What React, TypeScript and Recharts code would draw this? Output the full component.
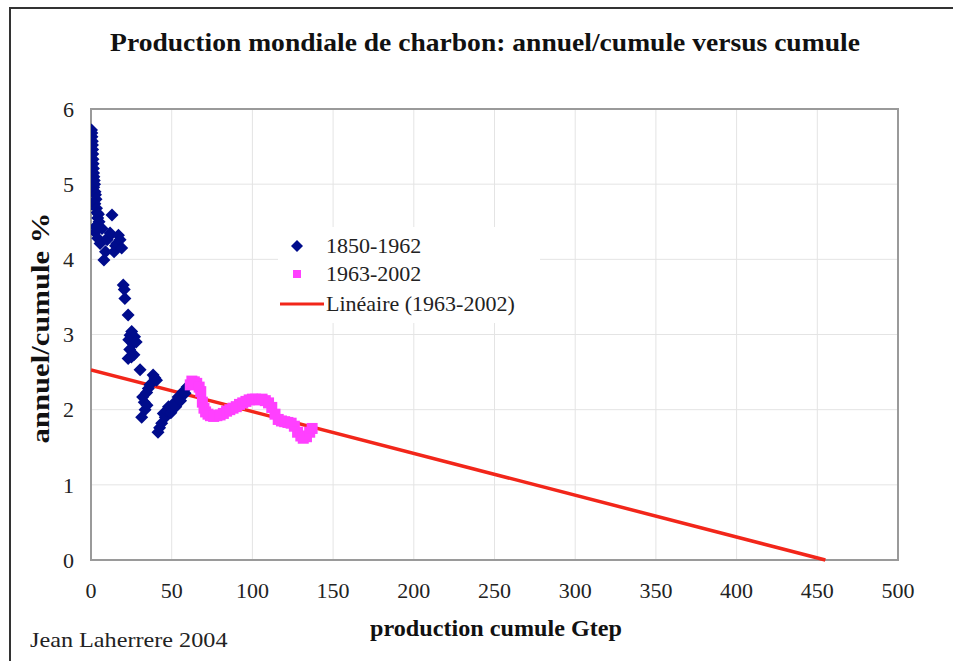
import {
  ComposedChart, Scatter, Line, XAxis, YAxis, CartesianGrid, Legend, ReferenceArea,
} from "recharts";

const X_TICKS = [0, 50, 100, 150, 200, 250, 300, 350, 400, 450, 500];
const Y_TICKS = [0, 1, 2, 3, 4, 5, 6];

// 1850-1962 : [production cumulée Gtep, annuel/cumulé %]
const SERIE_1850_1962: [number, number][] = [
  [0.3, 5.72], [0.5, 5.68], [0.6, 5.63], [0.8, 5.57], [0.9, 5.52], [1.0, 5.46],
  [1.1, 5.4], [1.2, 5.33], [1.3, 5.27], [1.5, 5.21], [1.6, 5.15], [1.8, 5.1],
  [2.0, 5.05], [2.2, 5.0], [1.7, 4.96], [2.5, 4.9], [2.8, 4.86], [3.1, 4.8],
  [2.4, 4.74], [3.4, 4.68], [3.8, 4.62], [4.2, 4.55], [4.6, 4.6], [5.0, 4.5],
  [3.0, 4.44], [2.5, 4.36], [3.3, 4.42], [4.2, 4.28], [5.6, 4.21], [6.8, 4.41],
  [8.0, 3.99], [9.0, 4.1], [10.0, 4.26], [11.0, 4.3], [11.8, 4.35], [13.0, 4.59],
  [14.3, 4.1], [15.2, 4.18], [16.0, 4.21], [17.0, 4.32], [18.0, 4.26], [19.0, 4.15],
  [20.0, 3.66], [20.6, 3.6], [21.0, 3.48], [23.0, 3.26], [24.2, 2.99], [25.2, 3.04],
  [27.0, 2.97], [23.4, 2.93], [26.0, 2.88], [28.0, 2.9], [24.0, 2.8], [26.6, 2.73],
  [23.0, 2.68], [25.0, 2.7], [30.4, 2.53], [32.0, 2.17], [33.0, 2.1], [34.5, 2.23],
  [35.5, 2.28], [36.5, 2.33], [38.5, 2.46], [39.6, 2.42], [40.6, 2.39], [33.5, 2.0],
  [31.4, 1.9], [34.7, 2.06], [41.5, 1.7], [42.5, 1.76], [43.8, 1.82], [44.8, 1.95],
  [46.0, 1.9], [47.0, 1.98], [48.0, 2.04], [49.5, 1.96], [51.0, 2.08], [52.5, 2.04],
  [54.0, 2.17], [55.5, 2.12], [57.0, 2.24], [58.3, 2.22], [59.5, 2.3],
];

// 1963-2002
const SERIE_1963_2002: [number, number][] = [
  [61.5, 2.33], [62.5, 2.38], [64.0, 2.37], [65.5, 2.35], [67.0, 2.3], [68.0, 2.24],
  [69.0, 2.1], [70.0, 2.02], [71.0, 1.97], [72.5, 1.94], [74.0, 1.92], [76.0, 1.91],
  [78.0, 1.92], [80.0, 1.93], [82.0, 1.95], [84.0, 1.98], [86.0, 2.0], [88.0, 2.02],
  [90.0, 2.04], [92.0, 2.07], [94.0, 2.09], [96.0, 2.11], [98.0, 2.13], [100.0, 2.14],
  [102.0, 2.14], [104.0, 2.13], [106.0, 2.14], [108.0, 2.12], [110.0, 2.09],
  [112.0, 2.03], [114.0, 1.94], [116.0, 1.87], [118.0, 1.85], [120.0, 1.84],
  [122.0, 1.83], [124.0, 1.82], [126.0, 1.78], [128.0, 1.7], [130.0, 1.65],
  [131.5, 1.62], [133.5, 1.64], [135.5, 1.7], [137.0, 1.75],
];

// droite de tendance linéaire (1963-2002)
const LINEAIRE: [number, number][] = [[0, 2.53], [455, 0]];

const BLUE = "#000c8c";
const PINK = "#ff40ff";
const RED = "#f2261a";
const FONT = "'Liberation Serif', 'Times New Roman', serif";

const TICK_STYLE = { fill: "#222", fontSize: 22, fontFamily: FONT };

const toPts = (arr: [number, number][]) => arr.map(([x, y]) => ({ x, y }));

const Diamond = (p: any) => {
  const { cx, cy } = p;
  const r = 6.5;
  return (
    <polygon
      points={`${cx},${cy - r} ${cx + r},${cy} ${cx},${cy + r} ${cx - r},${cy}`}
      fill={BLUE}
    />
  );
};

const Square = (p: any) => (
  <rect x={p.cx - 5.5} y={p.cy - 5.5} width={11} height={11} fill={PINK} />
);

const LegendBox = () => (
  <div
    style={{
      background: "#fff",
      width: 262,
      padding: "4px 0",
      fontFamily: FONT,
      fontSize: 22,
      color: "#222",
      lineHeight: "30px",
    }}
  >
    <div style={{ display: "flex", alignItems: "center" }}>
      <svg width={48} height={30}>
        <polygon points="19,9 25,15 19,21 13,15" fill={BLUE} />
      </svg>
      <span>1850-1962</span>
    </div>
    <div style={{ display: "flex", alignItems: "center", marginTop: -2 }}>
      <svg width={48} height={30}>
        <rect x={15} y={11} width={8} height={8} fill={PINK} />
      </svg>
      <span>1963-2002</span>
    </div>
    <div style={{ display: "flex", alignItems: "center" }}>
      <svg width={48} height={30}>
        <line x1={2} y1={15} x2={46} y2={15} stroke={RED} strokeWidth={3} />
      </svg>
      <span>Linéaire (1963-2002)</span>
    </div>
  </div>
);

export default function App() {
  return (
    <div
      style={{
        position: "absolute", left: 0, top: 0, width: 953, height: 661,
        background: "#fff", overflow: "hidden", fontFamily: FONT,
      }}
    >
      {/* cadre */}
      <div
        style={{
          position: "absolute", left: 9, top: 7, width: 980, height: 700,
          borderLeft: "2px solid #333", borderTop: "2px solid #333",
        }}
      />

      <ComposedChart
        width={953}
        height={661}
        margin={{ top: 109, right: 55, bottom: 71, left: 31 }}
      >
        <CartesianGrid stroke="#e4e4e4" strokeWidth={1} />
        <XAxis
          dataKey="x"
          type="number"
          domain={[0, 500]}
          ticks={X_TICKS}
          tick={TICK_STYLE}
          tickSize={0}
          tickMargin={22}
          axisLine={false}
          height={30}
          allowDataOverflow
        />
        <YAxis
          dataKey="y"
          type="number"
          domain={[0, 6]}
          ticks={Y_TICKS}
          tick={TICK_STYLE}
          tickSize={0}
          tickMargin={17}
          axisLine={false}
          width={60}
        />
        <ReferenceArea
          x1={0} x2={500} y1={0} y2={6}
          fill="none" stroke="#9a9a9a" strokeWidth={2}
          ifOverflow="visible"
        />
        <Scatter
          name="1850-1962"
          data={toPts(SERIE_1850_1962)}
          shape={Diamond}
          isAnimationActive={false}
        />
        <Scatter
          name="1963-2002"
          data={toPts(SERIE_1963_2002)}
          shape={Square}
          isAnimationActive={false}
        />
        <Line
          name="Linéaire (1963-2002)"
          data={toPts(LINEAIRE)}
          dataKey="y"
          type="linear"
          stroke={RED}
          strokeWidth={3.5}
          dot={false}
          activeDot={false}
          isAnimationActive={false}
        />
        <Legend
          layout="vertical"
          align="center"
          verticalAlign="middle"
          content={<LegendBox />}
          wrapperStyle={{ left: 278, top: 227, width: 262 }}
        />
      </ComposedChart>

      <div
        style={{
          position: "absolute", left: 0, width: 970, top: 28, textAlign: "center",
          fontSize: 26, fontWeight: "bold", color: "#111",
          transform: "scaleX(1.06)", transformOrigin: "485px 0",
        }}
      >
        Production mondiale de charbon: annuel/cumule versus cumule
      </div>
      <div
        style={{
          position: "absolute", left: 41, top: 328, width: 0, height: 0,
        }}
      >
        <div
          style={{
            position: "absolute", left: 0, top: 0, whiteSpace: "nowrap",
            transform: "translate(-50%, -50%) rotate(-90deg) scaleX(1.18)",
            fontSize: 26, fontWeight: "bold", color: "#111",
          }}
        >
          annuel/cumule %
        </div>
      </div>
      <div
        style={{
          position: "absolute", left: 296, width: 400, top: 616, textAlign: "center",
          fontSize: 23, fontWeight: "bold", color: "#111",
          transform: "scaleX(1.05)",
        }}
      >
        production cumule Gtep
      </div>
      <div
        style={{
          position: "absolute", left: 30, top: 627, fontSize: 22, color: "#222",
          transform: "scaleX(1.1)", transformOrigin: "0 0",
        }}
      >
        Jean Laherrere 2004
      </div>
    </div>
  );
}
